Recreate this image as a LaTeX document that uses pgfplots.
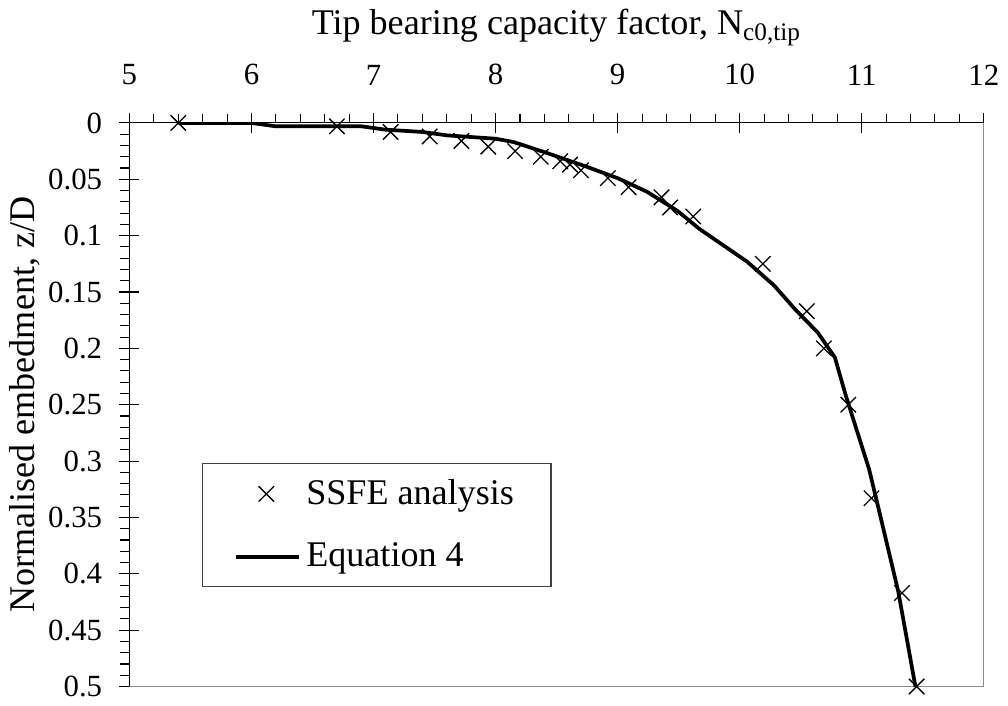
\documentclass[border=0pt]{standalone}
\usepackage{fontspec}
\setmainfont{Liberation Serif}
\usepackage{pgfplots}
\pgfplotsset{compat=1.18}
\pgfplotsset{
    legmark/.style={legend image code/.code={\path (0pt,0pt) (23.6pt,0pt); \draw[##1] plot coordinates {(11.25pt,0pt)};}},
    legline/.style={legend image code/.code={\draw[##1] (0pt,0pt) -- (23.6pt,0pt);}},
}

\begin{document}
\begin{tikzpicture}
\begin{axis}[
    at={(0,0)}, anchor=south west,
    scale only axis,
    width=321.75pt, height=212.25pt,
    xmin=5, xmax=12,
    ymin=0, ymax=0.5,
    y dir=reverse,
    axis x line*=top,
    axis y line*=left,
    xtick={5,6,...,12},
    ytick={0,0.05,...,0.5},
    minor x tick num=4,
    minor y tick num=4,
    tick align=center,
    major tick length=7.5pt,
    minor tick length=3.5pt,
    minor x tick style={yshift=1.75pt},
    minor y tick style={xshift=-1.75pt},
    tick style={black, line width=0.4pt},
    axis line style={black, line width=0.4pt},
    /pgf/number format/assume math mode=true,
    /pgf/number format/fixed,
    ticklabel style={font=\fontsize{11.6}{14}\selectfont},
    xticklabel style={yshift=7pt},
    yticklabel style={xshift=-3pt},
    label style={font=\fontsize{13.6}{16}\selectfont},
    xlabel={Tip bearing capacity factor, N\textsubscript{c0,tip}},
    xlabel style={at={(axis description cs:0.5,1.170)}, anchor=center},
    ylabel={Normalised embedment, z/D},
    ylabel style={at={(axis description cs:-0.1225,0.5)}, anchor=center},
    legend style={
        at={(axis description cs:0.085,0.397)}, anchor=north west,
        draw=black!75, line width=0.5pt,
        font=\fontsize{13.6}{16}\selectfont,
        inner xsep=12pt, inner ysep=4pt,
        row sep=9pt,
        cells={anchor=west, inner xsep=1.5pt},
    },
]

\draw[black!45, line width=0.6pt] (rel axis cs:0,0) -- (rel axis cs:1,0) -- (rel axis cs:1,1);

\addplot[
    only marks,
    mark=x,
    mark size=4.1pt,
    mark options={line width=0.5pt},
    legmark
]
coordinates {
    (5.40, 0)
    (6.70, 0.003)
    (7.14, 0.008)
    (7.46, 0.012)
    (7.72, 0.016)
    (7.94, 0.021)
    (8.16, 0.025)
    (8.37, 0.030)
    (8.53, 0.034)
    (8.61, 0.037)
    (8.70, 0.042)
    (8.92, 0.049)
    (9.09, 0.057)
    (9.36, 0.066)
    (9.43, 0.075)
    (9.62, 0.083)
    (10.19, 0.125)
    (10.55, 0.167)
    (10.69, 0.200)
    (10.89, 0.250)
    (11.08, 0.333)
    (11.33, 0.417)
    (11.45, 0.500)
};
\addlegendentry{SSFE analysis}

\addplot[
    black,
    line width=1.4pt,
    mark=none,
    legline
]
coordinates {
    (5.40, 0)
    (6.00, 0)
    (6.20, 0.003)
    (6.90, 0.003)
    (7.10, 0.006)
    (7.40, 0.008)
    (7.60, 0.011)
    (8.00, 0.014)
    (8.15, 0.017)
    (8.43, 0.027)
    (8.75, 0.039)
    (9.00, 0.049)
    (9.24, 0.061)
    (9.49, 0.078)
    (9.67, 0.094)
    (10.06, 0.123)
    (10.28, 0.144)
    (10.46, 0.166)
    (10.64, 0.186)
    (10.78, 0.208)
    (10.87, 0.242)
    (11.06, 0.307)
    (11.14, 0.343)
    (11.30, 0.416)
    (11.44, 0.500)
};
\addlegendentry{Equation 4}

\end{axis}
\path (-48.75pt,-7.125pt) rectangle (329.25pt,256.875pt);
\end{tikzpicture}
\end{document}
